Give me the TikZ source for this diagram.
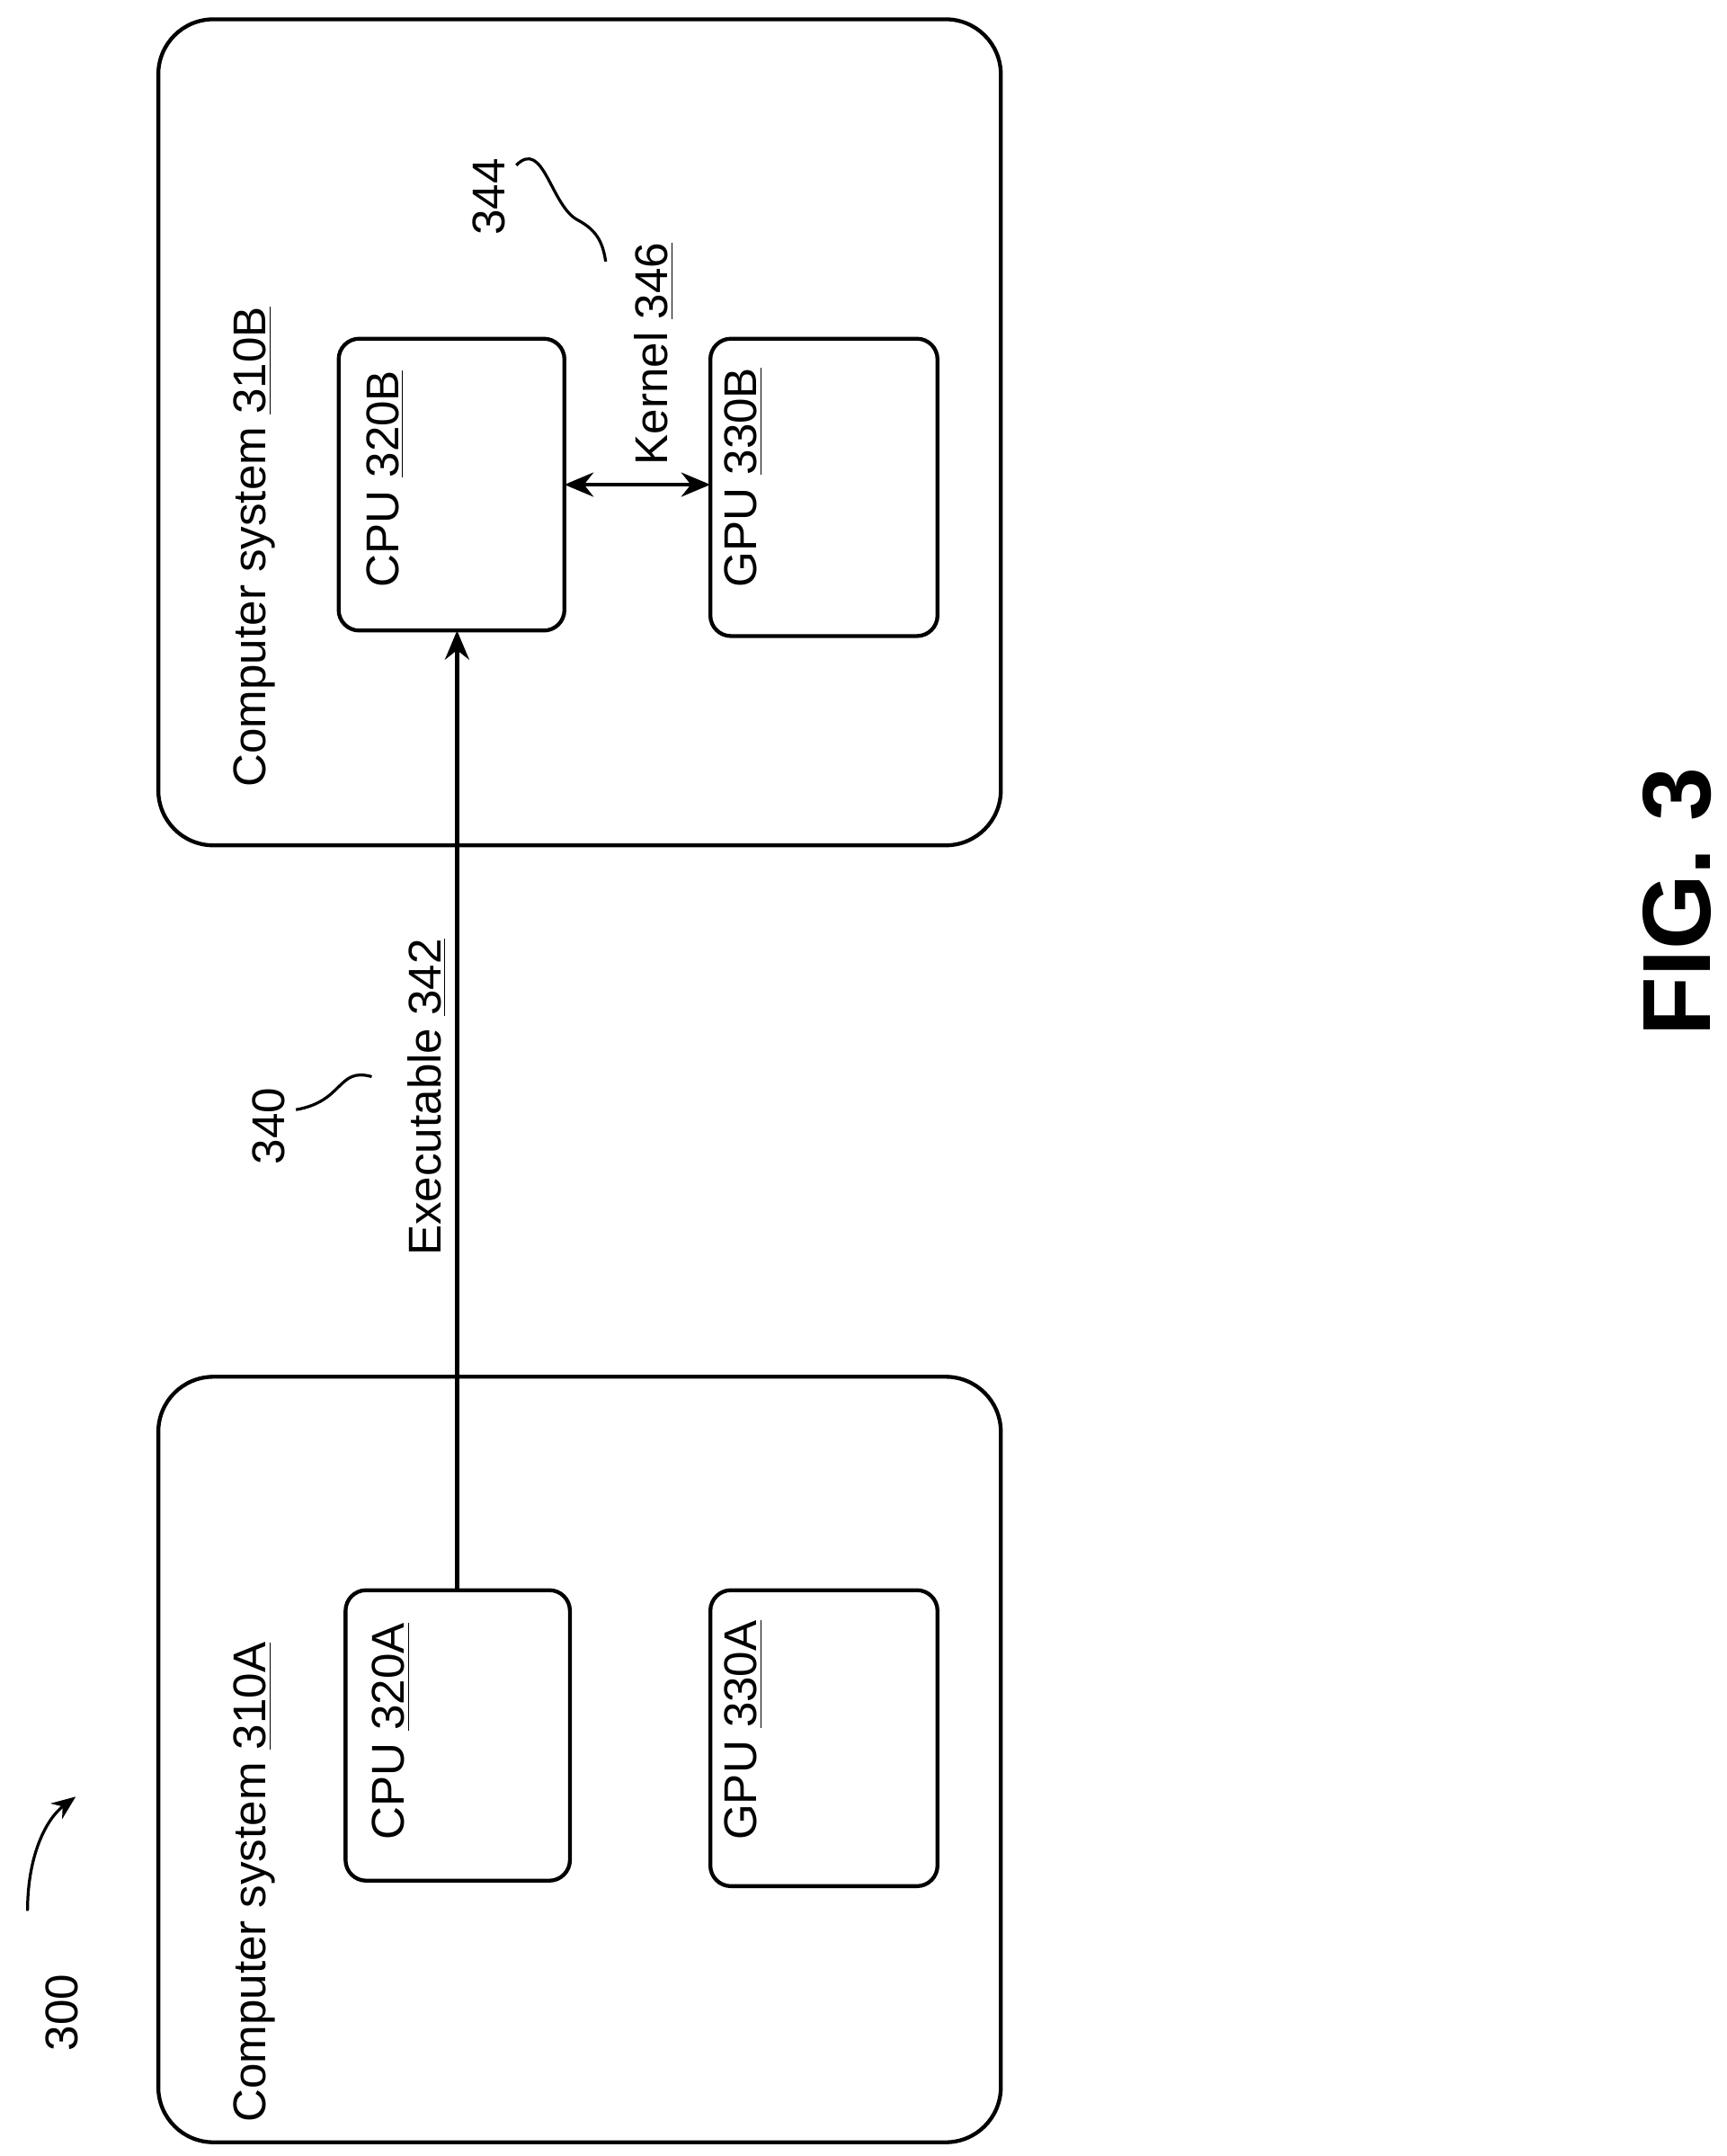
\documentclass[tikz,border=0pt]{standalone}
\usepackage{fontspec}
\setmainfont{Liberation Sans}
\usetikzlibrary{arrows.meta}
\begin{document}
\begin{tikzpicture}[x=0.02cm,y=-0.02cm,
  sys/.style={draw,line width=1.6pt,rounded corners=0.8cm},
  unit/.style={draw,line width=1.6pt,rounded corners=0.3cm},
  lbl/.style={rotate=90,anchor=west,inner sep=0pt,font=\fontsize{19pt}{22pt}\selectfont},
  conn/.style={line width=1.6pt,-{Stealth[length=12pt,width=10pt]}},
  sq/.style={line width=1.2pt}]
\useasboundingbox (0,0) rectangle (1254,1566);
\draw[sys] (115,14) rectangle (727,614);
\draw[sys] (115,1000) rectangle (727,1556);
\draw[unit] (246,246) rectangle (410,458);
\draw[unit] (516,246) rectangle (681,462);
\draw[unit] (251,1155) rectangle (414,1366);
\draw[unit] (516,1155) rectangle (681,1370);
\coordinate (cpuBb) at (332,458);
\coordinate (cpuAt) at (332,1155);
\coordinate (cpuBr) at (410,352);
\coordinate (gpuBl) at (516,352);
\node[lbl] (tB) at (185,572) {Computer system \underline{310B}};
\node[lbl] (tA) at (185,1542) {Computer system \underline{310A}};
\node[lbl] (cB) at (280,427) {CPU \underline{320B}};
\node[lbl] (gB) at (540,427) {GPU \underline{330B}};
\node[lbl] (cA) at (284,1337) {CPU \underline{320A}};
\node[lbl] (gA) at (540,1337) {GPU \underline{330A}};
\draw[conn] (cpuAt) -- (cpuBb);
\draw[line width=1.6pt,{Stealth[length=12pt,width=10pt]}-{Stealth[length=12pt,width=10pt]}] (cpuBr) -- (gpuBl);
\node[lbl,anchor=center] (ex) at (310,797) {Executable \underline{342}};
\node[lbl,anchor=center] (ke) at (475,257) {Kernel \underline{346}};
\node[lbl,anchor=center] (n340) at (195,818) {340};
\node[lbl,anchor=center] (n344) at (355,143) {344};
\node[lbl,anchor=center] (n300) at (45,1462) {300};
\coordinate (a1) at (215,806); \coordinate (a2) at (270,782);
\draw[sq] (a1) .. controls (250,800) and (245,775) .. (a2);
\coordinate (b1) at (375,120); \coordinate (b2) at (440,190);
\draw[sq] (b1) .. controls (395,100) and (400,150) .. (420,160) .. controls (435,168) and (438,178) .. (b2);
\coordinate (c1) at (20,1388); \coordinate (c2) at (55,1305);
\draw[sq,-{Stealth[length=10pt,width=8pt]}] (c1) .. controls (20,1345) and (35,1320) .. (c2);
\node[rotate=90,inner sep=0pt,font=\bfseries\fontsize{40pt}{46pt}\selectfont] (fig) at (1218,655) {FIG. 3};
\end{tikzpicture}
\end{document}
